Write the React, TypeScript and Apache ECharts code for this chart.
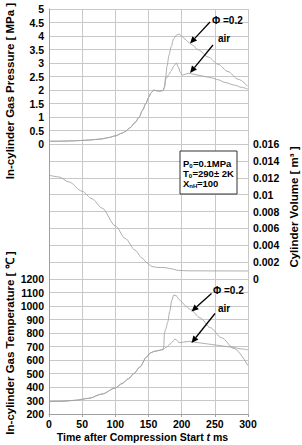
import React, { useEffect, useRef } from "react";
import * as echarts from "echarts";

// ---- data ----
const timeTicks = [0, 50, 100, 150, 200, 250, 300];

// pressure [MPa], common part before the curves separate
const timeCommonP = [0, 20, 40, 60, 80, 90, 100, 110, 115, 122, 130, 136, 141, 146, 150, 154, 158, 162, 167, 172];
const pressureCommon = [0.1, 0.105, 0.12, 0.145, 0.19, 0.24, 0.3, 0.4, 0.46, 0.6, 0.8, 1.0, 1.25, 1.5, 1.72, 1.9, 2.0, 1.97, 1.96, 1.98];
// Φ = 0.2 after separation
const timePhiP = [174, 176, 178, 181, 184, 188, 192, 196, 200, 205, 210, 214, 225, 240, 255, 270, 285, 300];
const pressurePhi = [2.1, 2.5, 2.9, 3.3, 3.6, 3.9, 4.03, 4.07, 4.0, 3.88, 3.78, 3.7, 3.49, 3.22, 2.95, 2.68, 2.4, 2.13];
// air after separation
const timeAirP = [174, 176, 180, 184, 188, 192, 195, 198, 201, 205, 210, 215, 225, 235, 245, 255, 265, 280, 290, 300];
const pressureAir = [2.1, 2.4, 2.55, 2.7, 2.88, 3.0, 2.85, 2.65, 2.55, 2.58, 2.62, 2.6, 2.55, 2.5, 2.45, 2.38, 2.28, 2.18, 2.1, 2.03];

// cylinder volume [m3]
const timeV = [0, 15, 30, 50, 65, 80, 100, 115, 130, 140, 148, 155, 162, 175, 185, 195, 210, 250, 300];
const volume = [0.0123, 0.0121, 0.0115, 0.0104, 0.0095, 0.0084, 0.0063, 0.0048, 0.0034, 0.0025, 0.0019, 0.00148, 0.00138, 0.00135, 0.0012, 0.00102, 0.00097, 0.00096, 0.00095];

// temperature [°C]
const timeCommonT = [0, 20, 40, 60, 80, 100, 110, 120, 128, 137, 147, 153, 158, 165, 172];
const tempCommon = [292, 294, 302, 316, 348, 393, 425, 462, 500, 548, 622, 652, 663, 670, 678];
const timePhiT = [173, 174, 176, 179, 182, 185, 188, 192, 196, 200, 206, 213, 228, 243, 260, 279, 300];
const tempPhi = [700, 800, 830, 880, 960, 1040, 1081, 1075, 1050, 1030, 1000, 975, 912, 840, 765, 685, 558];
const timeAirT = [173, 177, 183, 187, 190, 193, 196, 200, 205, 212, 220, 230, 245, 260, 275, 290, 300];
const tempAir = [682, 695, 720, 740, 755, 745, 728, 730, 735, 738, 732, 725, 715, 705, 695, 682, 675];

const FONT = "'Liberation Sans', Arial, sans-serif";
const GRID_COLOR = "#c8c8c8";
const AXIS_COLOR = "#a0a0a0";
const CURVE_COLOR = "#a4a4a4";

function zip(ts: number[], vs: number[]) {
  return ts.map((t, i) => [t, vs[i]]);
}

function arrow(x1: number, y1: number, x2: number, y2: number) {
  const dx = x2 - x1;
  const dy = y2 - y1;
  const len = Math.hypot(dx, dy);
  const ux = dx / len;
  const uy = dy / len;
  const hl = 7;
  const hw = 3.2;
  const bx = x2 - ux * hl;
  const by = y2 - uy * hl;
  return [
    { type: "line", z: 100, shape: { x1, y1, x2: bx, y2: by }, style: { stroke: "#000", lineWidth: 1.3 } },
    {
      type: "polygon",
      z: 100,
      shape: { points: [[x2, y2], [bx - uy * hw, by + ux * hw], [bx + uy * hw, by - ux * hw]] },
      style: { fill: "#000" },
    },
  ];
}

function txt(x: number, y: number, text: string, size: number, extra: any = {}) {
  return {
    type: "text",
    z: 101,
    x,
    y,
    style: {
      text,
      font: `bold ${size}px ${FONT}`,
      fill: "#000",
      textAlign: "left",
      textVerticalAlign: "middle",
      ...extra,
    },
  };
}

export default function App() {
  const ref = useRef<HTMLDivElement>(null);

  useEffect(() => {
    document.body.style.margin = "0";
    if (!ref.current) return;
    const chart = echarts.init(ref.current, undefined, { renderer: "svg" });

    const grids = [
      { left: 49, top: 9, width: 199, height: 135 },
      { left: 49, top: 144, width: 199, height: 135 },
      { left: 49, top: 279, width: 199, height: 135 },
    ];

    const xAxes = [0, 1, 2].map((i) => ({
      type: "value",
      gridIndex: i,
      min: 0,
      max: 300,
      interval: 50,
      axisLine: { show: i === 2, lineStyle: { color: AXIS_COLOR } },
      axisTick: { show: i === 2, length: 3, lineStyle: { color: AXIS_COLOR } },
      axisLabel: {
        show: i === 2,
        color: "#000",
        fontWeight: "bold",
        fontSize: 10.5,
        fontFamily: FONT,
        margin: 4,
        formatter: (v: number) => (timeTicks.includes(v) ? String(v) : ""),
      },
      splitLine: { show: true, lineStyle: { color: GRID_COLOR, width: 1 } },
    }));

    const labelStyle = { color: "#000", fontWeight: "bold", fontSize: 10.5, fontFamily: FONT };

    const yAxes = [
      {
        type: "value",
        gridIndex: 0,
        min: 0,
        max: 5,
        interval: 0.5,
        axisLine: { show: true, lineStyle: { color: AXIS_COLOR } },
        axisTick: { show: false },
        axisLabel: { ...labelStyle, margin: 5, formatter: (v: number) => String(v) },
        splitLine: { show: true, lineStyle: { color: GRID_COLOR, width: 1 } },
      },
      {
        type: "value",
        gridIndex: 1,
        position: "right",
        min: 0,
        max: 0.016,
        interval: 0.002,
        axisLine: { show: true, lineStyle: { color: AXIS_COLOR } },
        axisTick: { show: false },
        axisLabel: { ...labelStyle, margin: 5, formatter: (v: number) => String(+v.toFixed(3)) },
        splitLine: { show: true, lineStyle: { color: GRID_COLOR, width: 1 } },
      },
      {
        type: "value",
        gridIndex: 2,
        min: 200,
        max: 1200,
        interval: 100,
        axisLine: { show: true, lineStyle: { color: AXIS_COLOR } },
        axisTick: { show: false },
        axisLabel: { ...labelStyle, margin: 5, formatter: (v: number) => String(Math.round(v)) },
        splitLine: { show: true, lineStyle: { color: GRID_COLOR, width: 1 } },
      },
    ];

    const lineBase = {
      type: "line",
      showSymbol: false,
      symbol: "none",
      smooth: 0.3,
      smoothMonotone: "x",
      lineStyle: { color: CURVE_COLOR, width: 0.9 },
      silent: true,
    };

    const series = [
      { ...lineBase, name: "p phi", xAxisIndex: 0, yAxisIndex: 0, data: [...zip(timeCommonP, pressureCommon), ...zip(timePhiP, pressurePhi)] },
      { ...lineBase, name: "p air", xAxisIndex: 0, yAxisIndex: 0, data: [...zip(timeCommonP, pressureCommon), ...zip(timeAirP, pressureAir)] },
      { ...lineBase, name: "volume", xAxisIndex: 1, yAxisIndex: 1, data: zip(timeV, volume) },
      { ...lineBase, name: "T phi", xAxisIndex: 2, yAxisIndex: 2, data: [...zip(timeCommonT, tempCommon), ...zip(timePhiT, tempPhi)] },
      { ...lineBase, name: "T air", xAxisIndex: 2, yAxisIndex: 2, data: [...zip(timeCommonT, tempCommon), ...zip(timeAirT, tempAir)] },
    ];

    const titleFont = `bold 11.5px ${FONT}`;
    const graphic: any[] = [
      // axis titles
      {
        type: "text",
        x: 10,
        y: 91,
        rotation: Math.PI / 2,
        style: { text: "In-cylinder Gas Pressure [ MPa ]", font: titleFont, fill: "#000", textAlign: "center", textVerticalAlign: "middle" },
      },
      {
        type: "text",
        x: 10,
        y: 343,
        rotation: Math.PI / 2,
        style: { text: "In-cylinder Gas Temperature [ ℃ ]", font: titleFont, fill: "#000", textAlign: "center", textVerticalAlign: "middle" },
      },
      {
        type: "text",
        x: 294,
        y: 207,
        rotation: Math.PI / 2,
        style: { text: "Cylinder Volume [ m³ ]", font: titleFont, fill: "#000", textAlign: "center", textVerticalAlign: "middle" },
      },
      {
        type: "text",
        x: 142.5,
        y: 437,
        style: {
          text: "{n|Time after Compression Start }{i|t}{n| ms}",
          textAlign: "center",
          textVerticalAlign: "middle",
          rich: {
            n: { font: `bold 10.5px ${FONT}`, fill: "#000" },
            i: { font: `italic bold 10.5px ${FONT}`, fill: "#000" },
          },
        },
      },
      // condition box
      { type: "rect", z: 99, shape: { x: 180, y: 151, width: 57, height: 43 }, style: { fill: "#fff", stroke: "#333", lineWidth: 1 } },
      txt(183, 163, "P", 9.5),
      txt(189.3, 166, "0", 6),
      txt(193, 163, "=0.1MPa", 9.5),
      txt(183, 173, "T", 9.5),
      txt(188.8, 176, "0", 6),
      txt(192.5, 173, "=290± 2K", 9.5),
      txt(183, 183, "X", 9.5),
      txt(189.3, 186, "nH", 6),
      txt(197, 183, "=100", 9.5),
      // annotations
      txt(212, 20, "Φ =0.2", 10),
      txt(218, 38, "air", 10),
      ...arrow(210, 22, 190, 43.5),
      ...arrow(213, 45, 190, 73),
      txt(213, 290, "Φ =0.2", 10),
      txt(218, 308, "air", 10),
      ...arrow(211.5, 293.5, 191.5, 311.5),
      ...arrow(215, 313.5, 191.5, 343),
    ];

    chart.setOption({
      animation: false,
      backgroundColor: "#fff",
      grid: grids,
      xAxis: xAxes,
      yAxis: yAxes,
      series,
      graphic,
    });

    return () => chart.dispose();
  }, []);

  return <div ref={ref} style={{ width: 302, height: 445, position: "absolute", left: 0, top: 0 }} />;
}
